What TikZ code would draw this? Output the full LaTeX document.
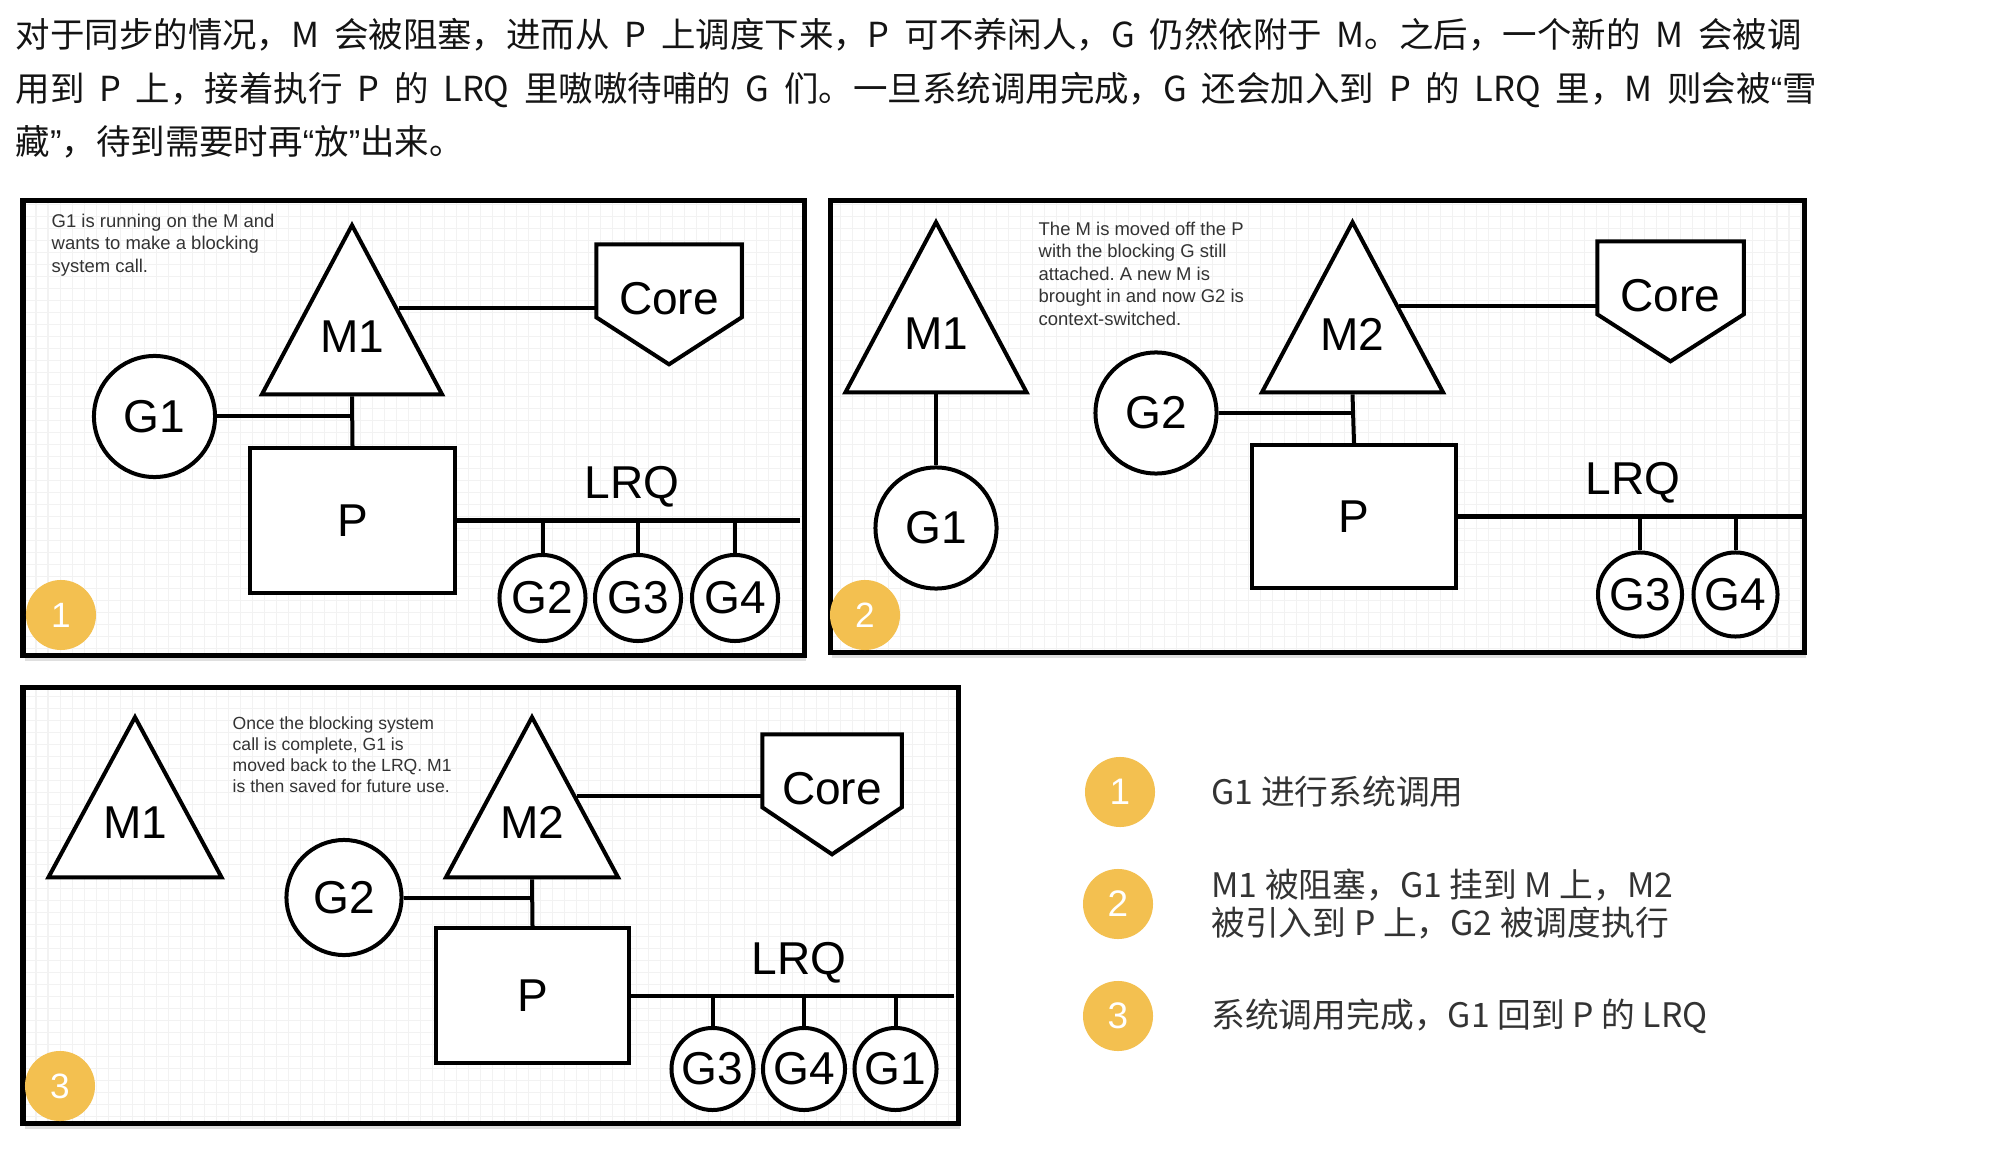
\documentclass[tikz,border=0pt]{standalone}
\usepackage{fontspec}
\setmainfont{Liberation Sans}
\newfontfamily\cjk{Noto Sans CJK SC}
\frenchspacing
\usetikzlibrary{positioning}
\usetikzlibrary{shapes.geometric}
\usetikzlibrary{calc}
\usetikzlibrary{shadows}
\definecolor{figAmarillo}{RGB}{243,192,80}
\definecolor{figTexto}{RGB}{51,51,51}
\definecolor{figNegro}{RGB}{20,20,20}
\definecolor{figRejilla}{RGB}{242,242,242}
\tikzset{
  linea/.style={draw=black, line width=0.04cm},
  marco/.style={draw=black, line width=0.05cm},
  sombra/.style={fill=white, drop shadow={shadow xshift=0.02cm, shadow yshift=-0.06cm, opacity=0.25}},
  rejilla/.style={draw=figRejilla, line width=0.3pt},
  etiq/.style={font=\fontsize{13.1pt}{15pt}\selectfont, inner sep=0pt},
  hilo/.style={
    isosceles triangle, isosceles triangle stretches, rotate=90,
    draw=black, line width=0.04cm, fill=white, inner sep=0pt,
    minimum width=1.80cm, minimum height=1.69cm
  },
  gor/.style={
    circle, draw=black, line width=0.04cm, fill=white, inner sep=0pt,
    minimum size=1.21cm, font=\fontsize{13.1pt}{15pt}\selectfont
  },
  gorq/.style={gor, minimum size=0.86cm},
  proc/.style={
    rectangle, draw=black, line width=0.04cm, fill=white, inner sep=0pt,
    minimum width=2.05cm, minimum height=1.45cm, font=\fontsize{13.1pt}{15pt}\selectfont
  },
  nucleo/.style={
    minimum width=1.44cm, minimum height=1.08cm, inner sep=0pt,
    font=\fontsize{13.1pt}{15pt}\selectfont,
    append after command={\pgfextra{\draw[linea, fill=white]
      (\tikzlastnode.north west) -- (\tikzlastnode.north east)
      -- ([yshift=-0.73cm]\tikzlastnode.north east) -- ([yshift=-1.2cm]\tikzlastnode.north)
      -- ([yshift=-0.73cm]\tikzlastnode.north west) -- cycle;}}
  },
  insignia/.style={
    circle, fill=figAmarillo, text=white, inner sep=0pt,
    minimum size=0.70cm, font=\fontsize{10pt}{12pt}\selectfont
  },
  nota/.style={
    font=\fontsize{5.25pt}{6.4pt}\selectfont, text=figTexto,
    align=left, anchor=north west, inner sep=0pt
  },
  titulo/.style={
    font=\cjk\fontsize{9.8pt}{15.1pt}\selectfont, text=figNegro,
    align=left, anchor=north west, inner sep=0pt
  },
  leyenda/.style={
    font=\cjk\fontsize{9.6pt}{10.9pt}\selectfont, text=figTexto,
    align=left, inner sep=0pt
  }
}

\begin{document}
\begin{tikzpicture}[x=0.01cm, y=-0.01cm]
  \fill[white] (0,0) rectangle (2000,1158);
  \useasboundingbox (0,0) rectangle (2000,1158);

  % text on top
  \begin{scope}[/utils/exec={\spaceskip=4.2pt\relax}]
  \node[titulo] (cabecera) at (15,18)
    {对于同步的情况，M 会被阻塞，进而从 P 上调度下来，P 可不养闲人，G 仍然依附于 M。之后，一个新的 M 会被调\\
     用到 P 上，接着执行 P 的 LRQ 里嗷嗷待哺的 G 们。一旦系统调用完成，G 还会加入到 P 的 LRQ 里，M 则会被{\rmfamily “}雪\\
     藏{\rmfamily ”}，待到需要时再{\rmfamily “}放{\rmfamily ”}出来。};
  \end{scope}

  % frames
  \fill[sombra] (23,201) rectangle (804,655);
  \draw[rejilla, step=0.12cm] (23,201) grid (804,655);
  \draw[marco] (23,201) rectangle (804,655);
  \fill[sombra] (830,201) rectangle (1804,652);
  \draw[rejilla, step=0.12cm] (830,201) grid (1804,652);
  \draw[marco] (830,201) rectangle (1804,652);
  \fill[sombra] (23,687) rectangle (958,1123);
  \draw[rejilla, step=0.12cm] (23,687) grid (958,1123);
  \draw[marco] (23,687) rectangle (958,1123);

  % panel 1
  \node[nota] (anota) at (51,213)
    {G1 is running on the M and\\wants to make a blocking\\system call.};
  \node[hilo, anchor=apex] (am1) at (352,220) {};
  \node[etiq] (am1t) at ($(am1.apex)!.66!(am1.lower side)$) {M1};
  \node[nucleo] (acore) at (669,299) {Core};
  \node[gor] (ag1) at (154.5,416.5) {G1};
  \node[proc] (ap) at (352.5,520.5) {P};
  \coordinate (afin) at (800,520.5);
  \node[etiq] (alrq) at (632,487) {LRQ};
  \node[gorq] (ag2) at (542.5,598) {G2};
  \node[gorq] (ag3) at (638,598) {G3};
  \node[gorq] (ag4) at (735,598) {G4};
  \node[insignia] (aidx) at (61,615) {1};

  \draw[linea] (am1.right side) -- (am1.right side -| acore.west);
  \draw[linea] (am1.lower side) -- (ap.north);
  \draw[linea] (ag1.east) -- (ag1.east -| am1.lower side);
  \draw[linea] (ap.east) -- (afin);
  \draw[linea] (ag2.north |- afin) -- (ag2.north);
  \draw[linea] (ag3.north |- afin) -- (ag3.north);
  \draw[linea] (ag4.north |- afin) -- (ag4.north);

  % panel 2
  \node[nota] (bnota) at (1038,221)
    {The M is moved off the P\\with the blocking G still\\attached. A new M is\\brought in and now G2 is\\context-switched.};
  \node[hilo, anchor=apex, minimum width=1.81cm, minimum height=1.70cm] (bm1) at (936,217) {};
  \node[etiq] (bm1t) at ($(bm1.apex)!.66!(bm1.lower side)$) {M1};
  \node[gor] (bg1) at (936,528) {G1};
  \node[hilo, anchor=apex, minimum width=1.81cm, minimum height=1.70cm] (bm2) at (1352.5,217) {};
  \node[etiq] (bm2t) at ($(bm2.apex)!.66!(bm2.lower side)$) {M2};
  \node[nucleo, minimum width=1.45cm] (bcore) at (1670.5,296) {Core};
  \node[gor] (bg2) at (1156,413) {G2};
  \node[proc, minimum width=2.04cm, minimum height=1.43cm] (bp) at (1354,516.5) {P};
  \coordinate (bfin) at (1802,516.5);
  \node[etiq] (blrq) at (1633,483) {LRQ};
  \node[gorq, minimum size=0.84cm] (bg3) at (1640,594.5) {G3};
  \node[gorq, minimum size=0.84cm] (bg4) at (1735.5,594.5) {G4};
  \node[insignia] (bidx) at (865,615) {2};

  \draw[linea] (bm1.lower side) -- (bg1.north);
  \draw[linea] (bm2.right side) -- (bm2.right side -| bcore.west);
  \draw[linea] (bm2.lower side) -- (bp.north);
  \draw[linea] (bg2.east) -- (bg2.east -| bm2.lower side);
  \draw[linea] (bp.east) -- (bfin);
  \draw[linea] (bg3.north |- bfin) -- (bg3.north);
  \draw[linea] (bg4.north |- bfin) -- (bg4.north);

  % panel 3
  \node[nota, font=\fontsize{5pt}{6pt}\selectfont] (cnota) at (232,716)
    {Once the blocking system\\call is complete, G1 is\\moved back to the LRQ. M1\\is then saved for future use.};
  \node[hilo, anchor=apex, minimum width=1.73cm, minimum height=1.60cm] (cm1) at (135,712) {};
  \node[etiq] (cm1t) at ($(cm1.apex)!.66!(cm1.lower side)$) {M1};
  \node[hilo, anchor=apex, minimum width=1.72cm, minimum height=1.60cm] (cm2) at (532,712) {};
  \node[etiq] (cm2t) at ($(cm2.apex)!.66!(cm2.lower side)$) {M2};
  \node[nucleo, minimum width=1.38cm] (ccore) at (832,789) {Core};
  \node[gor, minimum size=1.15cm] (cg2) at (344,897.5) {G2};
  \node[proc, minimum width=1.93cm, minimum height=1.35cm] (cp) at (532.5,995.5) {P};
  \coordinate (cfin) at (954,995.5);
  \node[etiq] (clrq) at (799,963) {LRQ};
  \node[gorq, minimum size=0.82cm] (cg3) at (712.5,1069) {G3};
  \node[gorq, minimum size=0.82cm] (cg4) at (804,1069) {G4};
  \node[gorq, minimum size=0.82cm] (cg1) at (895.5,1069) {G1};
  \node[insignia] (cidx) at (60,1086) {3};

  \draw[linea] (cm2.right side) -- (cm2.right side -| ccore.west);
  \draw[linea] (cm2.lower side) -- (cp.north);
  \draw[linea] (cg2.east) -- (cg2.east -| cm2.lower side);
  \draw[linea] (cp.east) -- (cfin);
  \draw[linea] (cg3.north |- cfin) -- (cg3.north);
  \draw[linea] (cg4.north |- cfin) -- (cg4.north);
  \draw[linea] (cg1.north |- cfin) -- (cg1.north);

  % legend
  \node[insignia, font=\fontsize{10.5pt}{12pt}\selectfont] (paso1) at (1120,792) {1};
  \node[insignia, font=\fontsize{10.5pt}{12pt}\selectfont] (paso2) at (1118,904) {2};
  \node[insignia, font=\fontsize{10.5pt}{12pt}\selectfont] (paso3) at (1118,1016) {3};
  \node[leyenda, right=0.55cm of paso1] (texto1) {G1 进行系统调用};
  \node[leyenda, right=0.57cm of paso2] (texto2)
    {M1 被阻塞，G1 挂到 M 上，M2\\被引入到 P 上，G2 被调度执行};
  \node[leyenda, right=0.57cm of paso3] (texto3) {系统调用完成，G1 回到 P 的 LRQ};
\end{tikzpicture}
\end{document}
